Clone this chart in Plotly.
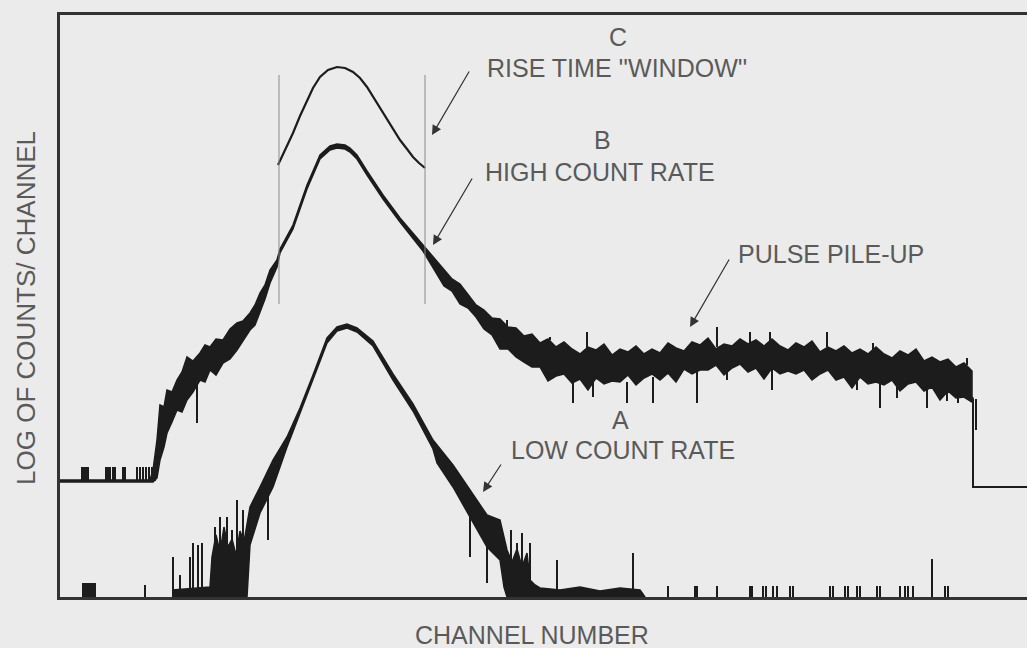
import plotly.graph_objects as go

# ---------------- data (channel number, log-count level) ----------------
# Curve B: high count rate spectrum, upper / lower envelope of the noisy trace
b_chan = [0, 90, 93, 97, 100, 104, 107, 112, 117, 122, 127, 133, 140, 145, 150, 156,
          163, 170, 177, 183, 190, 195, 200, 205, 210, 217,
          220, 233, 247, 260, 270, 277, 285, 290, 297, 307, 323, 340, 363,
          384, 392, 400, 408, 416, 424, 432, 440, 448, 456, 464, 472, 480, 488, 496,
          504, 512, 520, 528, 536, 544, 552, 560, 568, 576, 584, 592, 600, 608, 616,
          624, 632, 640, 648, 656, 664, 672, 680, 688, 696, 704, 712, 720, 728, 736,
          744, 752, 760, 768, 776, 784, 792, 800, 808, 816, 824, 832, 840, 848, 856,
          864, 872, 880, 888, 896, 904, 912]
b_top = [117, 117, 127, 157, 192, 190, 207, 205, 217, 225, 240, 236, 244, 252, 250, 258,
         257, 268, 274, 276, 284, 292, 304, 312, 327, 337,
         348, 372, 412, 442, 451, 453, 452, 449, 442, 426, 402, 379, 352,
         328, 318, 313, 302, 292, 287, 279, 278, 270, 269, 261, 263, 254, 258, 250,
         255, 248, 243, 250, 247, 253, 242, 248, 245, 251, 243, 248, 244, 254, 249,
         246, 255, 252, 259, 248, 253, 251, 258, 253, 257, 251, 258, 251, 247, 254,
         250, 256, 245, 250, 246, 251, 244, 248, 243, 250, 243, 239, 246, 242, 248,
         236, 240, 235, 238, 230, 234, 226]
b_bot = [115, 115, 115, 119, 137, 150, 164, 175, 187, 185, 197, 205, 217, 215, 227, 222,
         234, 238, 247, 256, 267, 272, 284, 298, 314, 330,
         344, 368, 408, 438, 447, 449, 448, 445, 438, 422, 398, 375, 346,
         311, 306, 293, 289, 280, 268, 262, 248, 248, 240, 235, 230, 230, 216, 221,
         223, 214, 218, 207, 219, 213, 216, 215, 222, 212, 219, 223, 217, 224, 215,
         228, 223, 227, 227, 232, 222, 229, 233, 225, 229, 218, 229, 223, 226, 223,
         227, 217, 223, 227, 217, 220, 209, 220, 213, 215, 212, 217, 206, 213, 215,
         206, 210, 197, 206, 199, 200, 195]
b_tail_chan = [912, 913, 913, 967]
b_tail_val = [200, 198, 110, 110]
# spikes on curve B: channel, start level, end level
b_spike_chan = [22, 24, 26, 28, 46, 48, 50, 53, 55, 63, 65, 77, 80, 83, 86, 89, 92, 95,
                137, 513, 533, 567, 593, 637, 712, 667, 797, 820, 837, 867, 887, 898, 916,
                447, 490, 527, 657, 690, 710, 767, 813, 907]
b_spike_from = [116, 116, 116, 116, 116, 116, 116, 116, 116, 116, 116, 116, 116, 116, 116, 116, 116, 116,
                217, 214, 217, 215, 220, 226, 227, 229, 218, 215, 215, 213, 206, 204, 198,
                253, 257, 245, 250, 253, 253, 250, 243, 232]
b_spike_to = [130, 130, 130, 130, 130, 130, 130, 130, 130, 130, 130, 130, 130, 130, 130, 130, 130, 130,
              174, 194, 200, 194, 194, 194, 207, 217, 207, 189, 199, 189, 196, 194, 167,
              277, 260, 265, 270, 265, 265, 265, 254, 239]

# Curve A: low count rate spectrum, upper / lower envelope
a_chan = [112, 150, 152, 156, 160, 164, 168, 172, 176, 180, 184, 187, 190, 200, 213,
          227, 240, 253, 267, 277, 287, 297, 313, 333, 353, 373, 377, 393, 410, 427,
          440, 444, 447, 452, 457, 462, 467, 470, 475, 480, 500, 520, 540, 560, 580, 585]
a_top = [7, 10, 40, 62, 45, 70, 50, 58, 42, 66, 55, 75, 90, 110, 137,
         160, 189, 222, 259, 270, 273, 269, 256, 223, 193, 157, 152, 132, 107, 82,
         77, 60, 47, 35, 48, 30, 44, 17, 12, 9, 7, 10, 6, 9, 7, 0]
a_bot = [0, 0, 0, 0, 0, 0, 0, 0, 0, 0, 0, 0, 52, 84, 110,
         150, 183, 217, 254, 266, 269, 265, 251, 217, 186, 148, 134, 110, 80, 50,
         37, 10, 0, 0, 0, 0, 0, 0, 0, 0, 0, 0, 0, 0, 0, 0]
# spikes on curve A: channel, start level, end level
a_spike_chan = [23, 25, 27, 29, 31, 33, 35, 85, 113, 120, 130, 133, 138, 142, 155, 160,
                167, 172, 177, 183, 208, 410, 427, 451, 457, 462, 470, 497, 573,
                608, 635, 637, 657, 690, 692, 703, 706, 713, 717, 730, 733, 770, 773,
                785, 788, 797, 800, 817, 820, 840, 845, 848, 853, 872, 885, 888]
a_spike_from = [0, 0, 0, 0, 0, 0, 0, 0, 0, 0, 0, 0, 0, 0, 0, 0,
                0, 0, 0, 0, 110, 80, 50, 0, 0, 0, 0, 0, 0,
                0, 0, 0, 0, 0, 0, 0, 0, 0, 0, 0, 0, 0, 0,
                0, 0, 0, 0, 0, 0, 0, 0, 0, 0, 0, 0, 0]
a_spike_to = [14, 14, 14, 14, 14, 14, 14, 12, 40, 22, 40, 54, 52, 54, 70, 80,
              80, 67, 97, 87, 57, 40, 14, 67, 54, 64, 54, 37, 44,
              11, 11, 11, 11, 11, 11, 11, 11, 11, 11, 11, 11, 11, 11,
              11, 11, 11, 11, 11, 11, 11, 11, 11, 11, 38, 11, 11]

# Curve C: rise time window
c_chan = [218, 225, 233, 240, 247, 253, 260, 268, 277, 285, 293, 300, 307, 315,
          323, 332, 340, 347, 353, 359, 365]
c_val = [432, 447, 464, 481, 497, 509, 520, 527, 530, 529, 525, 519, 510, 497,
         484, 470, 457, 448, 440, 434, 429]
window_chan = [219, 365]
window_low, window_high = 293, 522

INK = "#1c1c1c"
BG = "#ebebeb"
TXT = "#5a5a5a"


def band(xs, top, bot):
    return xs + xs[::-1], top + bot[::-1]


def segs(xs, y0, y1):
    sx, sy = [], []
    for x, a, b in zip(xs, y0, y1):
        sx += [x, x, None]
        sy += [a, b, None]
    return sx, sy


fig = go.Figure()
bx, by = band(b_chan, b_top, b_bot)
fig.add_trace(go.Scatter(x=bx, y=by, fill="toself", fillcolor=INK, mode="lines",
                         line=dict(color=INK, width=1.5), hoverinfo="skip"))
fig.add_trace(go.Scatter(x=b_tail_chan, y=b_tail_val, mode="lines",
                         line=dict(color=INK, width=2), hoverinfo="skip"))
sx, sy = segs(b_spike_chan, b_spike_from, b_spike_to)
fig.add_trace(go.Scatter(x=sx, y=sy, mode="lines", line=dict(color=INK, width=2),
                         hoverinfo="skip"))
ax_, ay_ = band(a_chan, a_top, a_bot)
fig.add_trace(go.Scatter(x=ax_, y=ay_, fill="toself", fillcolor=INK, mode="lines",
                         line=dict(color=INK, width=1.5), hoverinfo="skip"))
sx, sy = segs(a_spike_chan, a_spike_from, a_spike_to)
fig.add_trace(go.Scatter(x=sx, y=sy, mode="lines", line=dict(color=INK, width=2),
                         hoverinfo="skip"))
fig.add_trace(go.Scatter(x=c_chan, y=c_val, mode="lines", line=dict(color=INK, width=2.2),
                         hoverinfo="skip"))
wx, wy = segs(window_chan, [window_low] * 2, [window_high] * 2)
fig.add_trace(go.Scatter(x=wx, y=wy, mode="lines", line=dict(color="#8a8a8a", width=1),
                         hoverinfo="skip"))

font = dict(family="Liberation Sans, Arial, sans-serif", size=25, color=TXT)
labels = [
    ("C", 558, 560), ("RISE TIME ''WINDOW''", 557, 529),
    ("B", 542, 457), ("HIGH COUNT RATE", 540, 425),
    ("PULSE PILE-UP", 771, 343),
    ("A", 560, 177), ("LOW COUNT RATE", 563, 147),
]
annotations = [dict(text=t, x=x, y=y, xref="x", yref="y", showarrow=False, font=font,
                    xanchor="center", yanchor="middle") for t, x, y in labels]
arrows = [((410, 527), (372, 462)), ((413, 420), (373, 352)),
          ((670, 339), (630, 270)), ((442, 134), (423, 105))]
for (tx, ty), (hx, hy) in arrows:
    annotations.append(dict(text="", x=hx, y=hy, ax=tx, ay=ty, xref="x", yref="y",
                            axref="x", ayref="y", showarrow=True, arrowhead=2,
                            arrowsize=1.6, arrowwidth=1.2, arrowcolor="#333"))
annotations.append(dict(text="LOG OF COUNTS/ CHANNEL", xref="paper", yref="paper",
                        x=-0.035, y=0.497, textangle=-90, showarrow=False,
                        font=dict(font, size=26), xanchor="center", yanchor="middle"))
annotations.append(dict(text="CHANNEL NUMBER", xref="paper", yref="paper",
                        x=0.488, y=-0.065, showarrow=False, font=font,
                        xanchor="center", yanchor="middle"))

fig.update_layout(
    width=1027, height=648, margin=dict(l=60, r=0, t=15, b=51),
    paper_bgcolor=BG, plot_bgcolor=BG, showlegend=False,
    annotations=annotations,
    xaxis=dict(range=[0, 967], showgrid=False, zeroline=False, showticklabels=False,
               ticks="", showline=True, linecolor="#333", linewidth=2.5, mirror=True),
    yaxis=dict(range=[0, 582], showgrid=False, zeroline=False, showticklabels=False,
               ticks="", showline=True, linecolor="#333", linewidth=2.5),
)
fig.write_html("out.html")
